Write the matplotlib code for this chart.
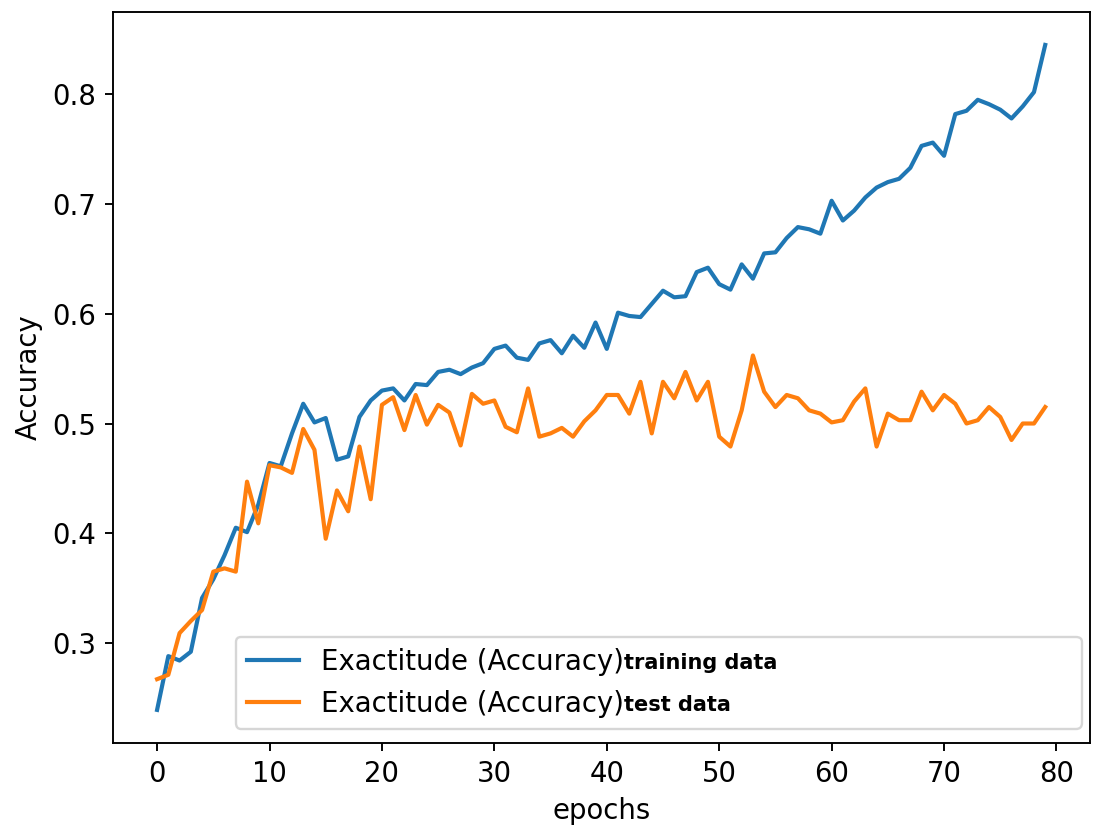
import numpy as np
import matplotlib
matplotlib.use("Agg")
import matplotlib.pyplot as plt

# accuracy per epoch
train_acc = [0.239, 0.288, 0.284, 0.292, 0.341, 0.358, 0.380, 0.405, 0.401, 0.426,
             0.464, 0.461, 0.491, 0.518, 0.501, 0.505, 0.467, 0.470, 0.506, 0.521,
             0.530, 0.532, 0.521, 0.536, 0.535, 0.547, 0.549, 0.545, 0.551, 0.555,
             0.568, 0.571, 0.560, 0.558, 0.573, 0.576, 0.564, 0.580, 0.569, 0.592,
             0.568, 0.601, 0.598, 0.597, 0.609, 0.621, 0.615, 0.616, 0.638, 0.642,
             0.627, 0.622, 0.645, 0.632, 0.655, 0.656, 0.669, 0.679, 0.677, 0.673,
             0.703, 0.685, 0.694, 0.706, 0.715, 0.720, 0.723, 0.733, 0.753, 0.756,
             0.744, 0.782, 0.785, 0.795, 0.791, 0.786, 0.778, 0.789, 0.802, 0.845]
test_acc = [0.267, 0.271, 0.309, 0.320, 0.330, 0.365, 0.368, 0.365, 0.447, 0.409,
            0.462, 0.460, 0.455, 0.495, 0.476, 0.395, 0.439, 0.420, 0.479, 0.431,
            0.517, 0.524, 0.494, 0.526, 0.499, 0.517, 0.510, 0.480, 0.527, 0.518,
            0.521, 0.497, 0.492, 0.532, 0.488, 0.491, 0.496, 0.488, 0.502, 0.512,
            0.526, 0.526, 0.509, 0.538, 0.491, 0.538, 0.523, 0.547, 0.521, 0.538,
            0.488, 0.479, 0.512, 0.562, 0.529, 0.515, 0.526, 0.523, 0.512, 0.509,
            0.501, 0.503, 0.520, 0.532, 0.479, 0.509, 0.503, 0.503, 0.529, 0.512,
            0.526, 0.518, 0.500, 0.503, 0.515, 0.506, 0.485, 0.500, 0.500, 0.515]
epochs = np.arange(len(train_acc))

label_main = "Exactitude (Accuracy)"
label_suffix = ["training data", "test data"]

plt.rcParams["font.size"] = 11.6
plt.rcParams["lines.linewidth"] = 1.75

fig = plt.figure(figsize=(1094 / 171, 835 / 171), dpi=171)
ax = fig.add_axes([0.103, 0.110, 0.893, 0.876])

ax.plot(epochs, train_acc, label=label_main)
ax.plot(epochs, test_acc, label=label_main)
ax.set_xlabel("epochs")
ax.set_ylabel("Accuracy")

leg = ax.legend(loc="lower left", bbox_to_anchor=(0.126, 0.02, 0.866, 0.125),
                mode="expand", borderaxespad=0, handlelength=1.9)

# bold suffix right after each legend label
for t, suffix in zip(leg.get_texts(), label_suffix):
    ax.annotate(suffix, xy=(1, 0.45), xycoords=t, va="center", ha="left",
                fontweight="bold", fontsize=8.8,
                family=["Liberation Sans Narrow", "DejaVu Sans"],
                annotation_clip=False, zorder=10)

fig.canvas.draw()
plt.savefig("out.png", dpi=171)
